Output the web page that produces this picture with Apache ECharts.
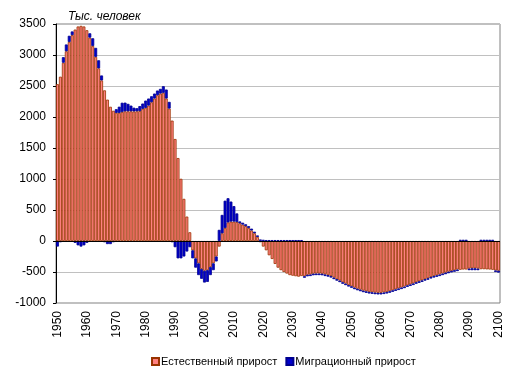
<!DOCTYPE html>
<html>
<head>
<meta charset="utf-8">
<script src="https://cdn.jsdelivr.net/npm/echarts@6/dist/echarts.min.js"></script>
<style>
    html, body { margin: 0; padding: 0; background: #fff; }
    #chart { width: 515px; height: 375px; }
</style>
</head>
<body>
<div id="chart"></div>
<script>
// годы 1950..2100
const years = []
for (let y = 1950; y <= 2100; y++) years.push(String(y))

// естественный прирост, тыс. человек
const natural = [
    2530, 2650, 2875, 3060, 3210, 3320, 3410, 3460, 3470, 3460,
    3400, 3280, 3145, 2970, 2785, 2590, 2430, 2280, 2165, 2100,
    2066, 2066, 2080, 2092, 2092, 2092, 2090, 2092, 2095, 2131,
    2147, 2184, 2238, 2298, 2351, 2378, 2390, 2298, 2136, 1942,
    1645, 1338, 1003, 680, 394, 141, -150, -280, -360, -450,
    -480, -470, -420, -360, -250, -90, 124, 210, 300, 313,
    313, 305, 286, 265, 240, 210, 170, 125, 65, -20,
    -90, -150, -230, -290, -370, -430, -470, -500, -525, -550,
    -560, -568, -575, -565, -568, -545, -540, -528, -525, -525,
    -528, -540, -550, -565, -590, -615, -638, -665, -687, -710,
    -730, -752, -770, -785, -800, -812, -822, -827, -833, -837,
    -837, -830, -822, -810, -795, -780, -765, -750, -735, -715,
    -700, -685, -665, -650, -635, -615, -600, -580, -565, -553,
    -540, -525, -510, -495, -482, -471, -460, -465, -460, -460,
    -445, -440, -440, -445, -455, -455, -458, -460, -465, -475,
    -480
]

// миграционный прирост, тыс. человек
const migration = [
    -90, -20, 90, 110, 100, 60, -30, -70, -90, -70,
    -30, 70, 125, 145, 130, 80, -20, -50, -50, -20,
    60, 100, 150, 140, 120, 92, 60, 50, 81, 86,
    118, 114, 97, 80, 76, 76, 107, 145, 108, -20,
    -100, -280, -280, -250, -170, -100, -130, -150, -190, -160,
    -190, -190, -130, -110, -80, 180, 297, 440, 390, 323,
    250, 140, 30, 30, 30, 30, 30, 25, 25, 25,
    20, 15, 15, 15, 15, 15, 15, 15, 15, 15,
    15, 15, 15, 15, -25, -25, -25, -25, -25, -25,
    -25, -25, -25, -25, -25, -25, -25, -25, -25, -25,
    -25, -25, -25, -25, -25, -25, -25, -25, -25, -25,
    -25, -25, -25, -25, -25, -25, -25, -25, -25, -25,
    -25, -25, -25, -25, -25, -25, -25, -25, -25, -25,
    -25, -25, -25, -25, -25, -25, -25, 20, 20, 20,
    -25, -30, -30, -25, 20, 20, 20, 20, 20, -25,
    -30
]

const seriesNames = ['Естественный прирост', 'Миграционный прирост']

const chart = echarts.init(document.getElementById('chart'), null, {renderer: 'canvas'})

const option = {
    animation: false,
    textStyle: {fontFamily: 'Liberation Sans, Arial, sans-serif', color: '#000'},
    title: {
        text: 'Тыс. человек',
        left: 63,
        top: 6,
        textStyle: {fontSize: 12, fontStyle: 'italic', fontWeight: 'normal', color: '#000'}
    },
    grid: {
        left: 56, right: 15, top: 24, bottom: 72,
        show: true, borderColor: '#808080', borderWidth: 1
    },
    legend: {
        data: seriesNames,
        left: 146,
        top: 351,
        icon: 'rect',
        itemWidth: 7,
        itemHeight: 7,
        itemGap: 8,
        textStyle: {fontSize: 11, color: '#000', padding: [0, 0, 0, -3]}
    },
    xAxis: {
        type: 'category',
        data: years,
        axisLine: {show: false, onZero: false},
        axisTick: {show: false},
        axisLabel: {
            interval: 9,
            rotate: 90,
            margin: 8,
            fontSize: 12,
            color: '#000'
        }
    },
    yAxis: {
        type: 'value',
        min: -1000,
        max: 3500,
        interval: 500,
        axisLine: {show: true, lineStyle: {color: '#000'}},
        axisTick: {show: true, length: 3, lineStyle: {color: '#000'}},
        axisLabel: {fontSize: 12, margin: 10, color: '#000', formatter: v => String(v)},
        splitLine: {lineStyle: {color: '#c0c0c0'}}
    },
    series: [
        {
            name: seriesNames[0],
            type: 'bar',
            stack: 'total',
            barCategoryGap: '0%',
            data: natural,
            itemStyle: {color: '#ff8080', borderColor: '#993300', borderWidth: 0.8},
            markLine: {
                silent: true,
                symbol: 'none',
                label: {show: false},
                lineStyle: {color: '#000', width: 1, type: 'solid'},
                data: [{yAxis: 0}]
            }
        },
        {
            name: seriesNames[1],
            type: 'bar',
            stack: 'total',
            barCategoryGap: '0%',
            data: migration,
            itemStyle: {color: '#0000cc', borderColor: '#000090', borderWidth: 0.8}
        }
    ]
}

chart.setOption(option)
</script>
</body>
</html>
